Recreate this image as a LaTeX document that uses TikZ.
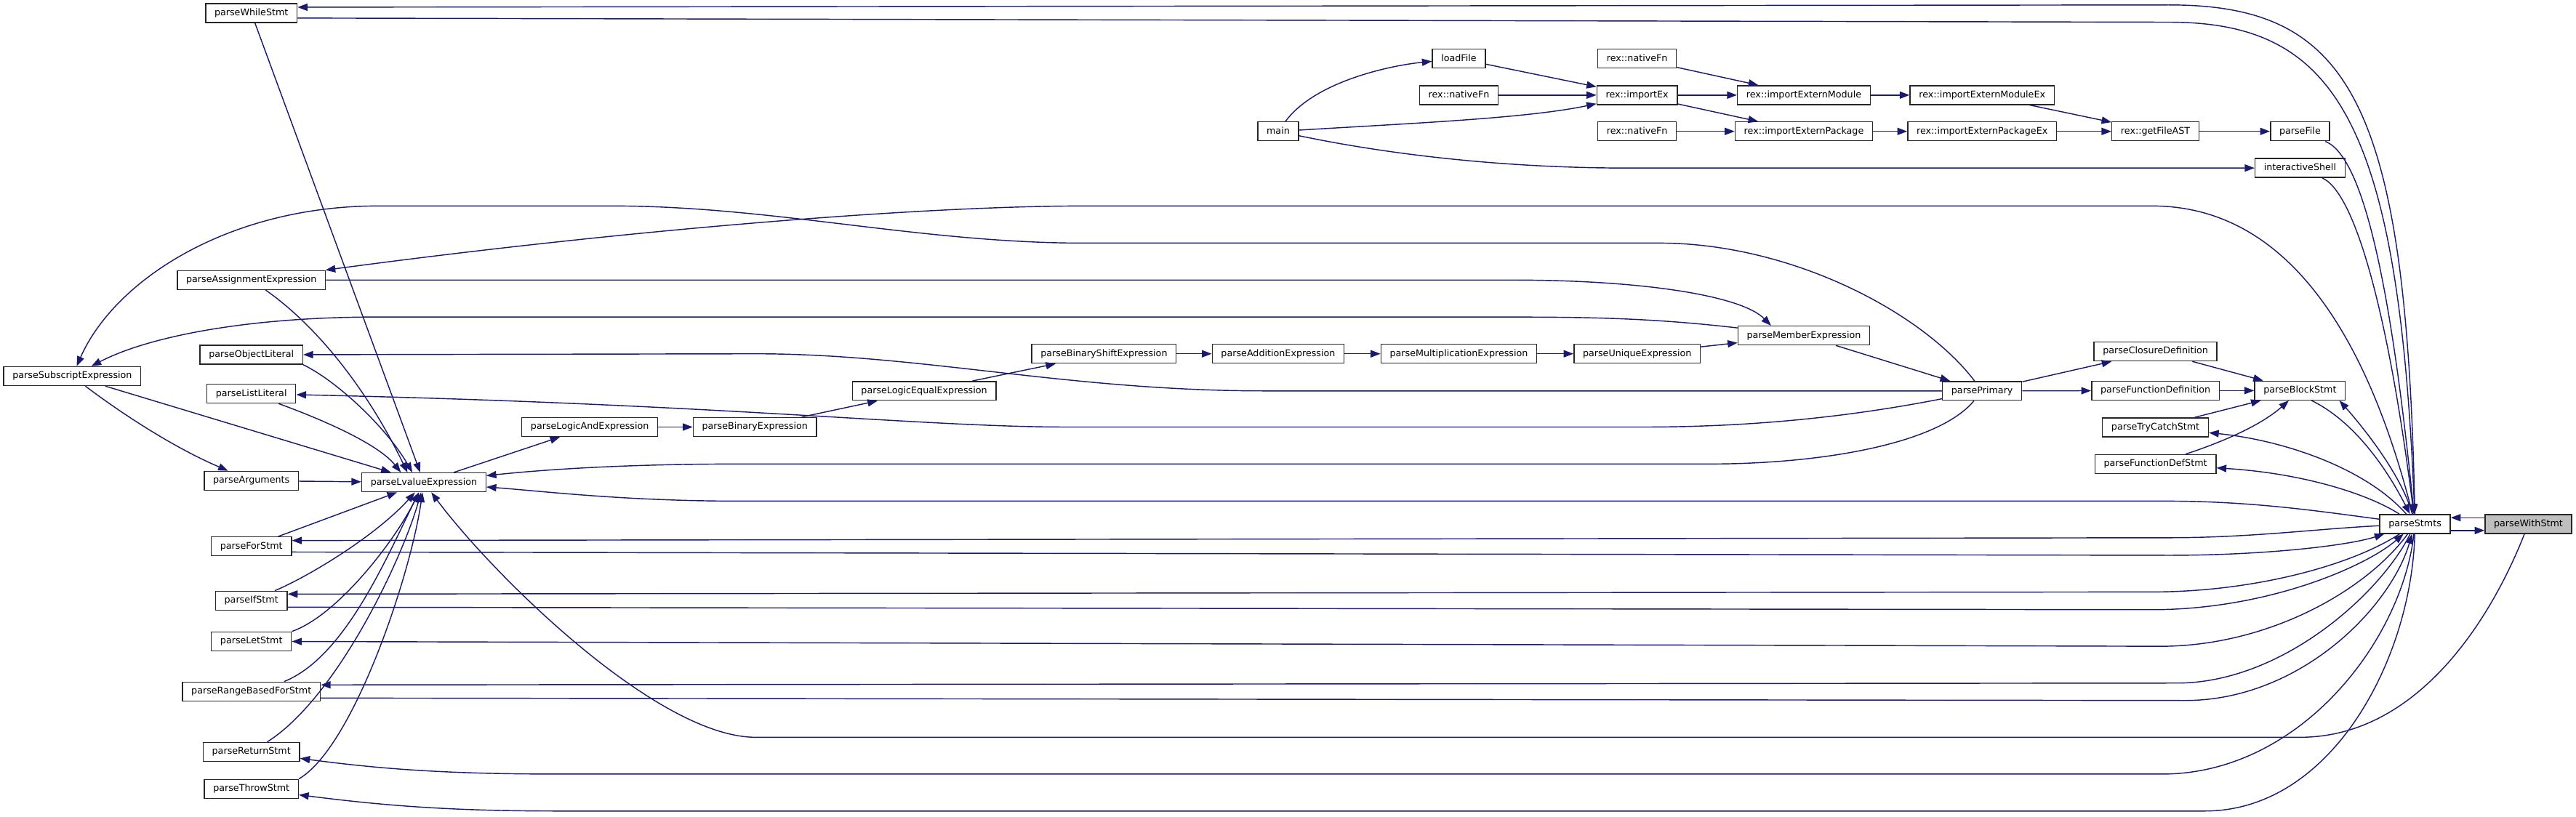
\documentclass[tikz,border=0pt]{standalone}
\usepackage{fontspec}
\setmainfont{DejaVu Sans}
\usepackage{xcolor}
\usepackage{tikz}
\usetikzlibrary{arrows.meta,positioning}

\definecolor{edgeblue}{RGB}{25,25,112}

\begin{document}
\begin{tikzpicture}[
    x=0.05cm, y=-0.05cm,
    fn/.style={rectangle, draw=black!85, line width=0.9pt, fill=white, minimum height=0.575cm, inner xsep=0.27cm, inner ysep=0pt, text height=6pt, text depth=1.7pt, font=\fontsize{8}{9}\selectfont},
    call/.style={-{Triangle[length=0.3cm, width=0.22cm]}, draw=edgeblue, line width=0.9pt}
]
    \path[use as bounding box, fill=white] (0,0) rectangle (1568,497);

    \node[fn] (while) at (153,8) {parseWhileStmt};
    \node[fn] (assign) at (153,170.5) {parseAssignmentExpression};
    \node[fn] (objlit) at (153,216) {parseObjectLiteral};
    \node[fn] (subscr) at (44,229) {parseSubscriptExpression};
    \node[fn] (listlit) at (153,239.7) {parseListLiteral};
    \node[fn] (args) at (153,292.7) {parseArguments};
    \node[fn] (lvalue) at (258,293.7) {parseLvalueExpression};
    \node[fn] (forstmt) at (153,332.7) {parseForStmt};
    \node[fn] (ifstmt) at (153,365.7) {parseIfStmt};
    \node[fn] (letstmt) at (153,390.5) {parseLetStmt};
    \node[fn] (rangefor) at (153,421) {parseRangeBasedForStmt};
    \node[fn] (retstmt) at (153,457.8) {parseReturnStmt};
    \node[fn] (throwstmt) at (153,480.3) {parseThrowStmt};

    \node[fn] (logicand) at (359,260) {parseLogicAndExpression};
    \node[fn] (binexpr) at (459.5,260) {parseBinaryExpression};
    \node[fn] (logiceq) at (562.5,238) {parseLogicEqualExpression};
    \node[fn] (shiftexpr) at (672,215.4) {parseBinaryShiftExpression};
    \node[fn] (addexpr) at (778,215.4) {parseAdditionExpression};
    \node[fn] (mulexpr) at (888,215.4) {parseMultiplicationExpression};
    \node[fn] (unique) at (996.5,215.4) {parseUniqueExpression};
    \node[fn] (member) at (1098,204.3) {parseMemberExpression};
    \node[fn] (primary) at (1206.5,238) {parsePrimary};

    \node[fn] (closure) at (1312,214) {parseClosureDefinition};
    \node[fn] (funcdef) at (1312,237.8) {parseFunctionDefinition};
    \node[fn] (trycatch) at (1312,260.2) {parseTryCatchStmt};
    \node[fn] (funcdefstmt) at (1312,282.6) {parseFunctionDefStmt};
    \node[fn] (block) at (1400,237.8) {parseBlockStmt};
    \node[fn] (stmts) at (1470,319) {parseStmts};
    \node[fn, fill=black!25] (with) at (1539,319) {parseWithStmt};

    \node[fn] (main) at (778,80) {main};
    \node[fn] (loadfile) at (888,35.7) {loadFile};
    \node[fn] (native1) at (996.5,35.7) {rex::nativeFn};
    \node[fn] (native2) at (888,57.9) {rex::nativeFn};
    \node[fn] (importex) at (996.5,57.9) {rex::importEx};
    \node[fn] (extmod) at (1098,57.9) {rex::importExternModule};
    \node[fn] (extmodex) at (1206.5,57.9) {rex::importExternModuleEx};
    \node[fn] (native3) at (996.5,80) {rex::nativeFn};
    \node[fn] (extpkg) at (1098,80) {rex::importExternPackage};
    \node[fn] (extpkgex) at (1206.5,80) {rex::importExternPackageEx};
    \node[fn] (getast) at (1312,80) {rex::getFileAST};
    \node[fn] (parsefile) at (1400,80) {parseFile};
    \node[fn] (shell) at (1400,102.3) {interactiveShell};

    % file loading
    \draw[call] (main) .. controls (800,50) and (845,40) .. (loadfile);
    \draw[call] (main) .. controls (860,75) and (930,72) .. (importex);
    \draw[call] (main) .. controls (850,95) and (920,102.3) .. (990,102.3) -- (shell);
    \draw[call] (loadfile) -- (importex);
    \draw[call] (native2) -- (importex);
    \draw[call] (native1) -- (extmod);
    \draw[call] (importex) -- (extmod);
    \draw[call] (importex) -- (extpkg);
    \draw[call] (native3) -- (extpkg);
    \draw[call] (extmod) -- (extmodex);
    \draw[call] (extpkg) -- (extpkgex);
    \draw[call] (extmodex) -- (getast);
    \draw[call] (extpkgex) -- (getast);
    \draw[call] (getast) -- (parsefile);
    \draw[call] (parsefile) .. controls (1438,95) and (1455,170) .. (stmts);
    \draw[call] (shell) .. controls (1435,118) and (1455,200) .. (stmts);

    % while
    \draw[call] (stmts) .. controls (1465,60) and (1430,3) .. (1320,3) -- ([yshift=0.18cm]while.east);
    \draw[call] ([yshift=-0.15cm]while.east) -- (1320,13.5) .. controls (1420,13.5) and (1460,70) .. (stmts);
    \draw[call] (while) -- (lvalue);

    % expressions
    \draw[call] (stmts) .. controls (1440,200) and (1390,125.4) .. (1310,125.4) -- (660,125.4) .. controls (560,125.4) and (380,140) .. (assign);
    \draw[call] (assign) -- (920,170.5) .. controls (1000,170.5) and (1060,180) .. ([xshift=-1cm]member.north);
    \draw[call] (assign) .. controls (195,200) and (225,240) .. ([xshift=-0.5cm]lvalue.north);
    \draw[call] (primary) .. controls (1170,190) and (1090,148) .. (1010,148) -- (660,148) .. controls (560,148) and (470,125.4) .. (373,125.4) -- (230,125.4) .. controls (140,125.4) and (70,170) .. (subscr);
    \draw[call] (member) .. controls (1000,193) and (960,193) .. (900,193) -- (230,193) .. controls (150,193) and (90,205) .. (subscr);
    \draw[call] (subscr) .. controls (65,245) and (100,270) .. (args);
    \draw[call] (subscr) -- (lvalue);
    \draw[call] (args) -- (lvalue);
    \draw[call] (lvalue) -- (logicand);
    \draw[call] (logicand) -- (binexpr);
    \draw[call] (binexpr) -- (logiceq);
    \draw[call] (logiceq) -- (shiftexpr);
    \draw[call] (shiftexpr) -- (addexpr);
    \draw[call] (addexpr) -- (mulexpr);
    \draw[call] (mulexpr) -- (unique);
    \draw[call] (unique) -- (member);
    \draw[call] (member) -- (primary);

    % primary
    \draw[call] (primary) -- (770,238) .. controls (650,238) and (560,215.4) .. (460,215.4) -- (objlit);
    \draw[call] (primary) .. controls (1120,255) and (1060,260) .. (1000,260) -- (650,260) .. controls (560,260) and (440,246) .. (listlit);
    \draw[call] (primary) .. controls (1180,270) and (1110,282.5) .. (1040,282.5) -- (450,282.5) .. controls (380,282.5) and (330,286) .. (lvalue);
    \draw[call] (primary) -- (closure);
    \draw[call] (primary) -- (funcdef);
    \draw[call] (objlit.south east) .. controls (205,232) and (235,260) .. ([xshift=-0.35cm]lvalue.north);
    \draw[call] (listlit) .. controls (195,255) and (230,270) .. ([xshift=-0.7cm]lvalue.north);

    % statements
    \draw[call] (forstmt) -- (lvalue);
    \draw[call] (ifstmt) .. controls (190,350) and (230,325) .. (lvalue);
    \draw[call] (letstmt.north east) .. controls (205,375) and (240,330) .. (lvalue);
    \draw[call] ([xshift=1cm]rangefor.north) .. controls (210,400) and (235,340) .. (lvalue);
    \draw[call] (retstmt) .. controls (205,425) and (245,340) .. (lvalue);
    \draw[call] (throwstmt.north east) .. controls (215,455) and (250,350) .. (lvalue);
    \draw[call] (stmts) .. controls (1410,311) and (1370,305.1) .. (1318,305.1) -- (450,305.1) .. controls (380,305.1) and (330,299) .. (lvalue);
    \draw[call] (stmts) .. controls (1410,322) and (1370,327.4) .. (1320,327.4) -- ([yshift=0.18cm]forstmt.east);
    \draw[call] ([yshift=-0.17cm]forstmt.east) -- (1320,338.1) .. controls (1380,338.1) and (1430,332) .. (stmts);
    \draw[call] (stmts) .. controls (1430,345) and (1370,360.4) .. (1310,360.4) -- ([yshift=0.2cm]ifstmt.east);
    \draw[call] ([yshift=-0.2cm]ifstmt.east) -- (1310,371.2) .. controls (1380,371.2) and (1440,345) .. (stmts);
    \draw[call] (stmts) .. controls (1440,360) and (1380,393.5) .. (1315,393.5) -- (letstmt);
    \draw[call] (stmts) .. controls (1450,360) and (1390,415.9) .. (1325,415.9) -- ([yshift=0.2cm]rangefor.east);
    \draw[call] ([yshift=-0.2cm]rangefor.east) -- (1330,426.5) .. controls (1400,426.5) and (1455,370) .. (stmts);
    \draw[call] (stmts) .. controls (1462,390) and (1400,471.3) .. (1316,471.3) -- (340,471.3) .. controls (270,471.3) and (230,468) .. (retstmt);
    \draw[call] (stmts) .. controls (1468,400) and (1420,493.8) .. (1342,493.8) -- (340,493.8) .. controls (270,493.8) and (230,490) .. (throwstmt);

    % with
    \draw[call] ([yshift=0.19cm]with.west) -- ([yshift=0.19cm]stmts.east);
    \draw[call] ([yshift=-0.2cm]stmts.east) -- ([yshift=-0.2cm]with.west);
    \draw[call] (with) .. controls (1515,380) and (1470,448.9) .. (1400,448.9) -- (460,448.9) .. controls (400,448.9) and (300,350) .. (lvalue);

    % blocks
    \draw[call] (closure) -- (block);
    \draw[call] (funcdef) -- (block);
    \draw[call] (trycatch) -- (block);
    \draw[call] (funcdefstmt) .. controls (1350,270) and (1375,260) .. (block);
    \draw[call] ([xshift=0.35cm]block.south) .. controls (1430,255) and (1450,280) .. (stmts);
    \draw[call] (stmts) .. controls (1462,290) and (1440,262) .. ([xshift=1.2cm]block.south);
    \draw[call] (stmts) .. controls (1440,285) and (1390,268) .. (trycatch);
    \draw[call] (stmts) .. controls (1440,300) and (1400,288) .. (funcdefstmt);
\end{tikzpicture}
\end{document}
